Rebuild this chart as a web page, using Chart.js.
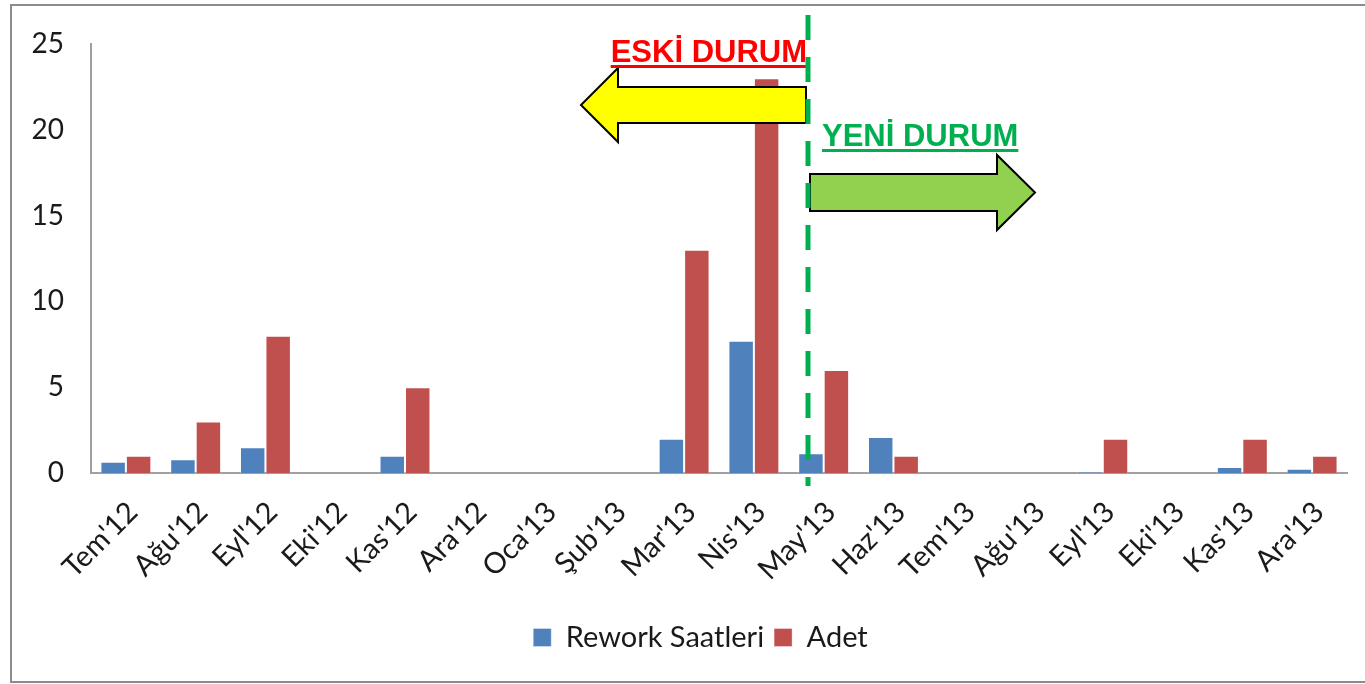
<!DOCTYPE html>
<html>
<head>
<meta charset="utf-8">
<script src="https://cdn.jsdelivr.net/npm/chart.js@4.4.1/dist/chart.umd.min.js"></script>
<style>
  html, body { margin: 0; padding: 0; background: #fff; overflow: hidden; }
  canvas { display: block; }
</style>
</head>
<body>
<canvas id="chart" width="1365" height="684"></canvas>
<script>
// --- data ---
const months = ["Tem'12","Ağu'12","Eyl'12","Eki'12","Kas'12","Ara'12","Oca'13","Şub'13","Mar'13",
                "Nis'13","May'13","Haz'13","Tem'13","Ağu'13","Eyl'13","Eki'13","Kas'13","Ara'13"];
const reworkHours = [0.65, 0.8, 1.5, 0, 1, 0, 0, 0, 2, 7.7, 1.15, 2.1, 0, 0, 0.07, 0, 0.35, 0.25];
const adet        = [1, 3, 8, 0, 5, 0, 0, 0, 13, 23, 6, 1, 0, 0, 2, 0, 2, 1];
const yTicks = [0, 5, 10, 15, 20, 25];
const dividerAt = 9.78;          // category position of the green divider (between Nis'13 and May'13)
const oldLabel = "ESKİ DURUM";
const newLabel = "YENİ DURUM";

const FONT = "Lato, 'Open Sans', sans-serif";
const BLUE = "#4F81BD", RED = "#C0504D", GREEN = "#00B050";

/* ----------------------------
   Decorations (frame, divider, arrows)
---------------------------- */

function arrow(ctx, tailX, tipX, cy, bodyHalf, headHalf, headLen, fill){
  const dir = tipX > tailX ? 1 : -1;
  const baseX = tipX - dir * headLen;
  ctx.beginPath();
  ctx.moveTo(tailX, cy - bodyHalf);
  ctx.lineTo(baseX, cy - bodyHalf);
  ctx.lineTo(baseX, cy - headHalf);
  ctx.lineTo(tipX, cy);
  ctx.lineTo(baseX, cy + headHalf);
  ctx.lineTo(baseX, cy + bodyHalf);
  ctx.lineTo(tailX, cy + bodyHalf);
  ctx.closePath();
  ctx.fillStyle = fill;
  ctx.fill();
  ctx.lineWidth = 2;
  ctx.strokeStyle = "#000";
  ctx.stroke();
}

function underlinedText(ctx, text, x, y, align, color){
  ctx.font = "bold 31px 'Liberation Sans', Arial, sans-serif";
  ctx.fillStyle = color;
  ctx.textAlign = align;
  ctx.textBaseline = "alphabetic";
  ctx.fillText(text, x, y);
  const w = ctx.measureText(text).width;
  const left = align === "right" ? x - w : x;
  ctx.fillRect(left, y + 3, w, 3);
}

const frame = {
  id: "frame",
  afterLayout(chart){
    // legend sits a little right of the canvas centre in the original
    chart.legend.left += 22;
    chart.legend.right += 22;
  },
  beforeDraw(chart){
    const ctx = chart.ctx;
    ctx.save();
    ctx.fillStyle = "#fff";
    ctx.fillRect(0, 0, chart.width, chart.height);
    ctx.strokeStyle = "#8c8c8c";
    ctx.lineWidth = 2;
    ctx.strokeRect(11, 5, chart.width + 20, 677);
    ctx.restore();
  }
};

const storyline = {
  id: "storyline",
  afterDatasetsDraw(chart){
    const ctx = chart.ctx;
    const xs = chart.scales.x;
    const divX = Math.round(xs.getPixelForValue(dividerAt));
    ctx.save();

    // old state: yellow arrow pointing left
    arrow(ctx, divX - 2, divX - 227, 105, 18, 37, 37, "#FFFF00");
    // new state: green arrow pointing right
    arrow(ctx, divX + 2, divX + 227, 192.5, 18.5, 37.5, 38, "#92D050");

    underlinedText(ctx, oldLabel, divX - 1, 62, "right", "#FF0000");
    underlinedText(ctx, newLabel, divX + 14, 146, "left", GREEN);

    // dashed divider
    ctx.beginPath();
    ctx.setLineDash([25, 17]);
    ctx.lineWidth = 5;
    ctx.strokeStyle = GREEN;
    ctx.moveTo(divX, 15);
    ctx.lineTo(divX, 486);
    ctx.stroke();
    ctx.restore();
  }
};

/* ----------------------------
   Chart
---------------------------- */

new Chart(document.getElementById("chart"), {
  type: "bar",
  data: {
    labels: months,
    datasets: [
      { label: "Rework Saatleri", data: reworkHours, backgroundColor: BLUE,
        borderColor: "rgba(255,255,255,0.35)", borderWidth: 1 },
      { label: "Adet", data: adet, backgroundColor: RED,
        borderColor: "rgba(255,255,255,0.35)", borderWidth: 1 }
    ]
  },
  options: {
    responsive: false,
    animation: false,
    devicePixelRatio: 1,
    layout: { padding: { left: 10, right: 18, top: 38, bottom: 22 } },
    datasets: { bar: { barPercentage: 1, categoryPercentage: 0.73 } },
    plugins: {
      legend: {
        position: "bottom",
        labels: {
          font: { family: FONT, size: 29 },
          color: "#1a1a1a",
          boxWidth: 18, boxHeight: 18,
          padding: 10
        }
      },
      tooltip: { enabled: false }
    },
    scales: {
      x: {
        grid: { display: false, drawTicks: false },
        border: { display: true, color: "#a0a0a0", width: 2 },
        ticks: {
          font: { family: FONT, size: 29 },
          color: "#1a1a1a",
          minRotation: 45, maxRotation: 45,
          autoSkip: false,
          padding: 22,
          labelOffset: 7
        },
        afterFit(s){ s.height = 140; }
      },
      y: {
        min: 0, max: 25,
        grid: { display: false, drawTicks: false },
        border: { display: true, color: "#a0a0a0", width: 2 },
        ticks: {
          stepSize: 5,
          font: { family: FONT, size: 28 },
          color: "#1a1a1a",
          padding: 27,
          callback: v => yTicks.includes(v) ? v : ""
        },
        afterFit(s){ s.width = 81; }
      }
    }
  },
  plugins: [frame, storyline]
});
</script>
</body>
</html>
